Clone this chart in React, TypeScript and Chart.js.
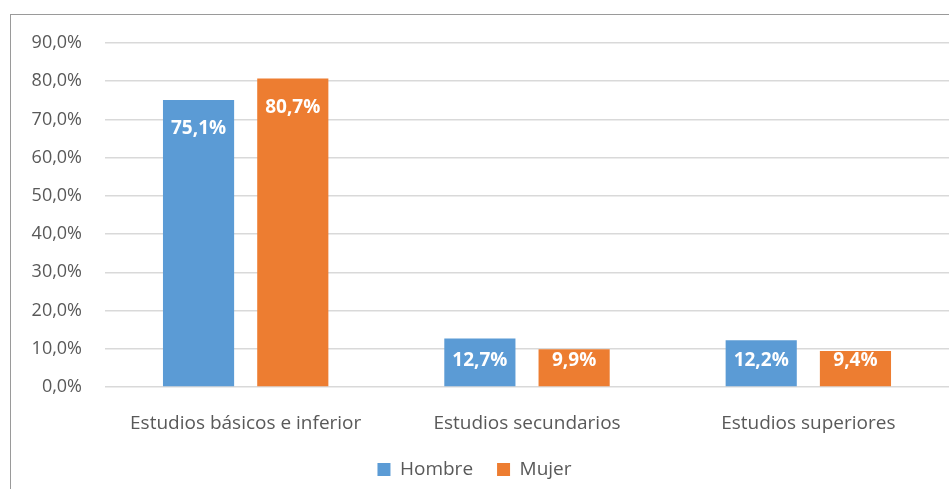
import React, { useEffect, useRef } from "react";
import { Chart, registerables } from "chart.js";

Chart.register(...registerables);

const categories = ["Estudios básicos e inferior", "Estudios secundarios", "Estudios superiores"];
const hombre = [75.1, 12.7, 12.2];
const mujer = [80.7, 9.9, 9.4];
const seriesNames = ["Hombre", "Mujer"];
const yTicks = [0, 10, 20, 30, 40, 50, 60, 70, 80, 90];

const FONT = "'Open Sans', sans-serif";
const fmt = (v: number) => v.toFixed(1).replace(".", ",") + "%";

const labelPlugin = {
  id: "barLabels",
  afterDatasetsDraw(chart: any) {
    const ctx = chart.ctx;
    ctx.save();
    ctx.fillStyle = "#ffffff";
    ctx.font = `bold 19px ${FONT}`;
    ctx.textAlign = "center";
    ctx.textBaseline = "middle";
    chart.data.datasets.forEach((ds: any, di: number) => {
      const meta = chart.getDatasetMeta(di);
      meta.data.forEach((bar: any, i: number) => {
        const y = Math.min(bar.y + 29, bar.base - 26);
        ctx.fillText(fmt(ds.data[i]), bar.x, y);
      });
    });
    ctx.restore();
  },
};

export default function App() {
  const ref = useRef<HTMLCanvasElement>(null);
  useEffect(() => {
    const chart = new Chart(ref.current!, {
      type: "bar",
      data: {
        labels: categories,
        datasets: [
          { label: seriesNames[0], data: hombre, backgroundColor: "#5B9BD5", categoryPercentage: 0.67, barPercentage: 0.755 },
          { label: seriesNames[1], data: mujer, backgroundColor: "#ED7D31", categoryPercentage: 0.67, barPercentage: 0.755 },
        ],
      },
      options: {
        animation: false,
        responsive: false,
        layout: { padding: { left: 0, right: 0, top: 43, bottom: 0 } },
        plugins: {
          tooltip: { enabled: false },
          legend: {
            position: "bottom",
            labels: {
              boxWidth: 13,
              boxHeight: 13,
              padding: 24,
              color: "#595959",
              font: { family: FONT, size: 19 },
            },
          },
        },
        scales: {
          x: {
            grid: { display: false },
            border: { display: false },
            ticks: { color: "#595959", font: { family: FONT, size: 19 }, padding: 17 },
            afterFit: (s: any) => { s.height = 49; },
          },
          y: {
            min: 0,
            max: 90,
            afterBuildTicks: (s: any) => { s.ticks = yTicks.map((v) => ({ value: v })); },
            ticks: { color: "#595959", font: { family: FONT, size: 18 }, padding: 23, callback: (v: any) => fmt(Number(v)) },
            grid: { color: "#d9d9d9", lineWidth: 1.5, drawTicks: false },
            border: { display: false },
            afterFit: (s: any) => { s.width = 105; },
          },
        },
      },
      plugins: [labelPlugin],
    });
    return () => chart.destroy();
  }, []);
  return (
    <div style={{ position: "absolute", left: 0, top: 0, width: 949, height: 489, background: "#fff", overflow: "hidden" }}>
      <div style={{ position: "absolute", left: 10, top: 14, width: 980, height: 520, border: "1px solid #9a9a9a" }} />
      <canvas ref={ref} width={949} height={489} style={{ position: "absolute", left: 0, top: 0 }} />
    </div>
  );
}
